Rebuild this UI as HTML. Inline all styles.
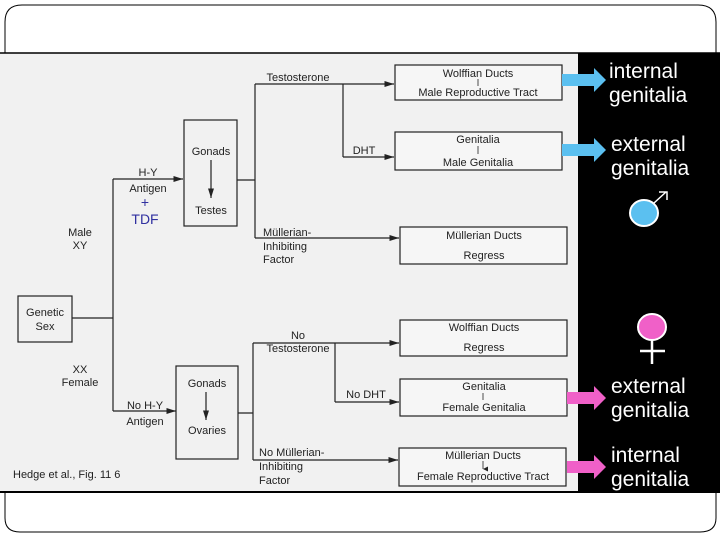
<!DOCTYPE html>
<html><head><meta charset="utf-8"><style>
html,body{margin:0;padding:0;background:#fff;width:720px;height:540px;overflow:hidden}
svg{display:block}
text{font-family:"Liberation Sans",sans-serif}
</style></head><body>
<svg width="720" height="540" viewBox="0 0 720 540" xmlns="http://www.w3.org/2000/svg">
<path d="M5,53 L5,22 Q5,5 22,5 L698,5 Q716,5 716,22 L716,53" fill="none" stroke="#000" stroke-width="1"/>
<path d="M5,492 L5,518 Q5,532 20,532 L700,532 Q716,532 716,518 L716,492" fill="none" stroke="#000" stroke-width="1"/>
<rect x="0" y="53" width="578" height="440" fill="#f1f1f1"/>
<line x1="0" y1="53" x2="720" y2="53" stroke="#000" stroke-width="1.5"/>
<rect x="578" y="53" width="142" height="440" fill="#000"/>
<line x1="0" y1="492" x2="720" y2="492" stroke="#000" stroke-width="2"/>
<defs><marker id="a" markerWidth="8" markerHeight="6" refX="8" refY="3" orient="auto"><path d="M0,0.5 L8,3 L0,5.5z" fill="#222"/></marker>
<marker id="s" markerUnits="userSpaceOnUse" markerWidth="5" markerHeight="5" refX="2.5" refY="5" orient="auto"><path d="M0,0 L5,0 L2.5,5z" fill="#222"/></marker></defs>
<g stroke="#222" stroke-width="1.2" fill="none">
<rect x="18" y="296" width="54" height="46"/>
<path d="M72,318 H113 M113,179 V411"/>
<path d="M113,179 H183" marker-end="url(#a)"/>
<path d="M113,411 H176" marker-end="url(#a)"/>
<rect x="184" y="120" width="53" height="106"/>
<rect x="176" y="366" width="62" height="93"/>
<path d="M211,160 V198" marker-end="url(#a)"/>
<path d="M206,392 V420" marker-end="url(#a)"/>
<path d="M237,180 H255 M255,84 V238 M343,84 V157"/>
<path d="M255,84 H394" marker-end="url(#a)"/>
<path d="M343,157 H394" marker-end="url(#a)"/>
<path d="M255,238 H399" marker-end="url(#a)"/>
<path d="M238,413 H253 M253,343 V460 M335,343 V402"/>
<path d="M253,343 H399" marker-end="url(#a)"/>
<path d="M335,402 H399" marker-end="url(#a)"/>
<path d="M253,460 H398" marker-end="url(#a)"/>
<rect x="395" y="65" width="167" height="35" fill="#f6f6f6"/>
<rect x="395" y="132" width="167" height="38" fill="#f6f6f6"/>
<rect x="400" y="227" width="167" height="37" fill="#f6f6f6"/>
<rect x="400" y="320" width="167" height="36" fill="#f6f6f6"/>
<rect x="400" y="379" width="167" height="37" fill="#f6f6f6"/>
<rect x="399" y="448" width="167" height="38" fill="#f6f6f6"/>
<path d="M478,79 V86 M478,146 V154 M483,393 V400 M483,461 V469" marker-end="url(#s)" stroke-width="0.8"/>
</g>
<g font-size="11" fill="#222" text-anchor="middle">
<text x="45" y="316">Genetic</text><text x="45" y="330">Sex</text>
<text x="80" y="236">Male</text><text x="80" y="249">XY</text>
<text x="80" y="373">XX</text><text x="80" y="386">Female</text>
<text x="148" y="176">H-Y</text><text x="148" y="192">Antigen</text>
<text x="145" y="207" fill="#3030a0" font-size="14">+</text><text x="145" y="224" fill="#3030a0" font-size="14">TDF</text>
<text x="145" y="409">No H-Y</text><text x="145" y="425">Antigen</text>
<text x="211" y="155">Gonads</text><text x="211" y="214">Testes</text>
<text x="207" y="387">Gonads</text><text x="207" y="434">Ovaries</text>
<text x="298" y="81">Testosterone</text>
<text x="364" y="154">DHT</text>
<text x="298" y="339">No</text><text x="298" y="352">Testosterone</text>
<text x="366" y="398">No DHT</text>
<text x="478" y="77">Wolffian Ducts</text><text x="478" y="96">Male Reproductive Tract</text>
<text x="478" y="143">Genitalia</text><text x="478" y="166">Male Genitalia</text>
<text x="484" y="239">Müllerian Ducts</text><text x="484" y="259">Regress</text>
<text x="484" y="331">Wolffian Ducts</text><text x="484" y="351">Regress</text>
<text x="484" y="390">Genitalia</text><text x="484" y="411">Female Genitalia</text>
<text x="483" y="459">Müllerian Ducts</text><text x="483" y="480">Female Reproductive Tract</text>
</g>
<g font-size="11" fill="#222">
<text x="263" y="236">Müllerian-</text><text x="263" y="250">Inhibiting</text><text x="263" y="263">Factor</text>
<text x="259" y="456">No Müllerian-</text><text x="259" y="470">Inhibiting</text><text x="259" y="484">Factor</text>
<text x="13" y="478">Hedge et al., Fig. 11 6</text>
</g>
<g>
<path d="M562,74 H594 V68 L606,80 L594,92 V86 H562z" fill="#5bc0f0"/>
<path d="M562,144 H594 V138 L606,150 L594,162 V156 H562z" fill="#5bc0f0"/>
<path d="M567,392 H594 V386 L606,398 L594,410 V404 H567z" fill="#f060c8"/>
<path d="M567,461 H594 V455 L606,467 L594,479 V473 H567z" fill="#f060c8"/>
</g>
<g fill="#fff" font-size="21">
<text x="609" y="78">internal</text><text x="609" y="102">genitalia</text>
<text x="611" y="151">external</text><text x="611" y="175">genitalia</text>
<text x="611" y="393">external</text><text x="611" y="417">genitalia</text>
<text x="611" y="462">internal</text><text x="611" y="486">genitalia</text>
</g>
<ellipse cx="644" cy="213" rx="14" ry="13" fill="#5bc0f0" stroke="#fff" stroke-width="2"/>
<path d="M654,203 L666,192 M659,192 H667 V200" stroke="#fff" stroke-width="1.5" fill="none"/>
<ellipse cx="652" cy="327" rx="14" ry="13" fill="#f060c8" stroke="#fff" stroke-width="2"/>
<path d="M652,340 V364 M640,351 H665" stroke="#fff" stroke-width="2.5"/>
</svg>
</body></html>
